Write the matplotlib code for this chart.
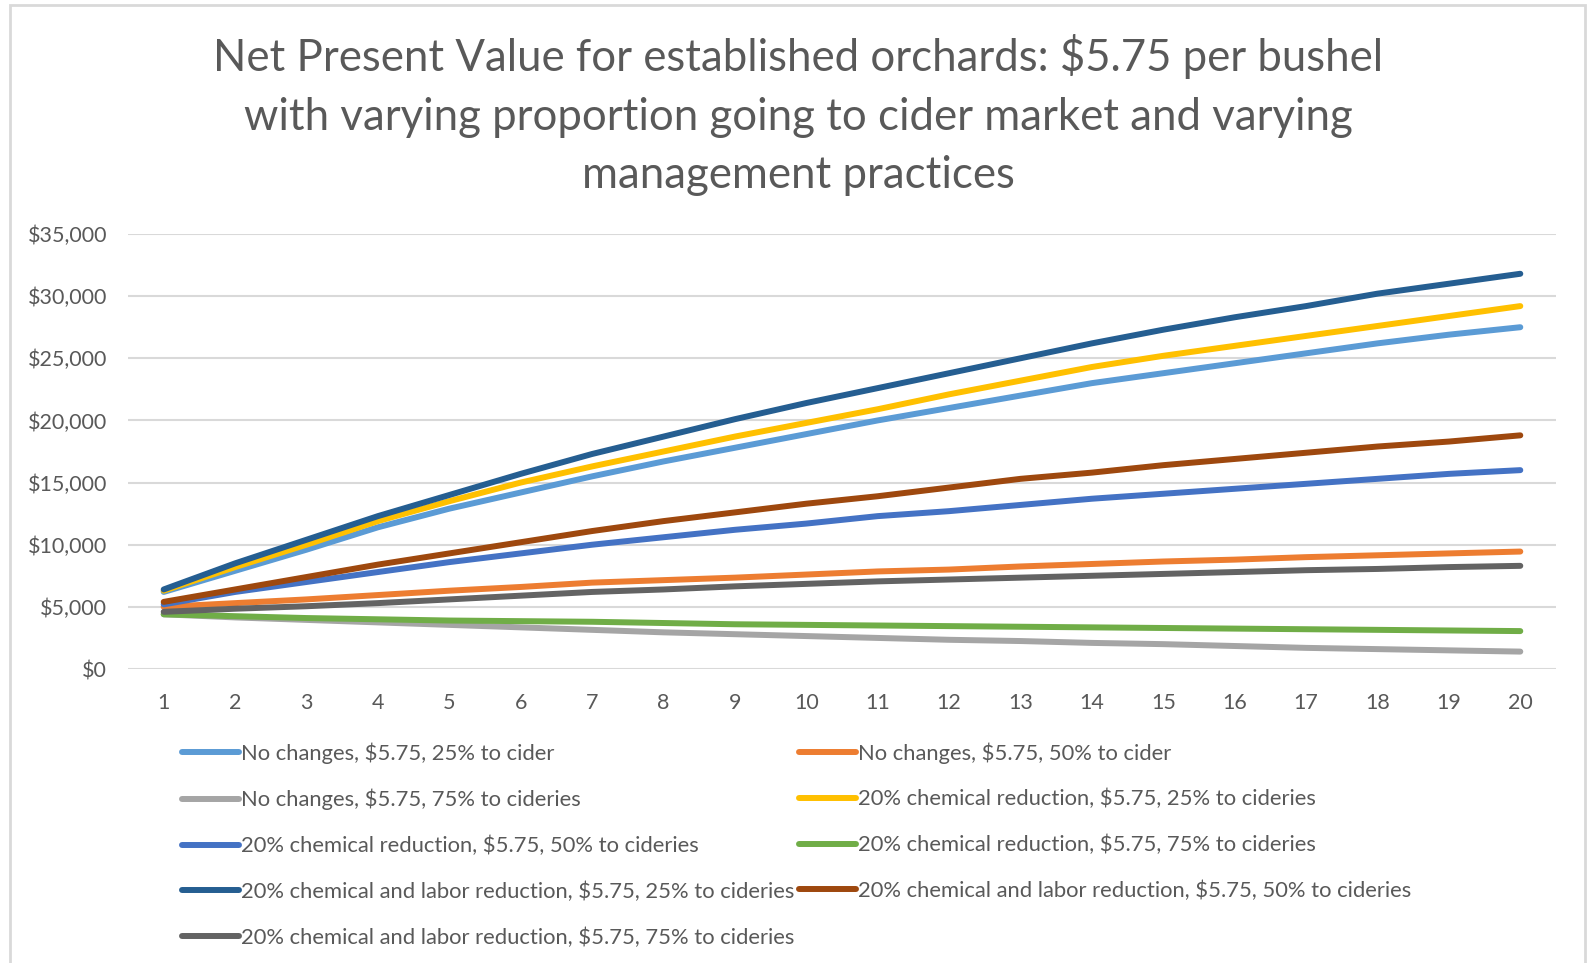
import matplotlib.pyplot as plt
from matplotlib.patches import Rectangle
from matplotlib.ticker import FuncFormatter

plt.rcParams['font.family'] = ['Lato', 'DejaVu Sans']

years = list(range(1, 21))

# NPV in dollars
no_change_25 = [6200, 7900, 9600, 11400, 12900, 14200, 15500, 16700, 17800, 18900,
                20000, 21000, 22000, 23000, 23800, 24600, 25400, 26200, 26900, 27500]
no_change_50 = [5000, 5300, 5600, 5950, 6300, 6600, 6950, 7150, 7350, 7600,
                7850, 8000, 8250, 8450, 8650, 8800, 9000, 9150, 9300, 9450]
no_change_75 = [4400, 4150, 3950, 3750, 3550, 3350, 3150, 2950, 2800, 2650,
                2500, 2350, 2250, 2100, 2000, 1850, 1700, 1600, 1500, 1400]
chem_25 = [6300, 8200, 10000, 11900, 13500, 15000, 16300, 17500, 18700, 19800,
           20900, 22100, 23200, 24300, 25200, 26000, 26800, 27600, 28400, 29200]
chem_50 = [5200, 6200, 7000, 7800, 8600, 9300, 10000, 10600, 11200, 11700,
           12300, 12700, 13200, 13700, 14100, 14500, 14900, 15300, 15700, 16000]
chem_75 = [4400, 4250, 4100, 4000, 3900, 3850, 3800, 3700, 3600, 3550,
           3500, 3450, 3400, 3350, 3300, 3250, 3200, 3150, 3100, 3050]
chem_labor_25 = [6400, 8500, 10400, 12300, 14000, 15700, 17300, 18700, 20100, 21400,
                 22600, 23800, 25000, 26200, 27300, 28300, 29200, 30200, 31000, 31800]
chem_labor_50 = [5400, 6400, 7400, 8400, 9300, 10200, 11100, 11900, 12600, 13300,
                 13900, 14600, 15300, 15800, 16400, 16900, 17400, 17900, 18300, 18800]
chem_labor_75 = [4600, 4850, 5050, 5300, 5600, 5900, 6200, 6400, 6650, 6850,
                 7050, 7200, 7350, 7500, 7650, 7800, 7950, 8050, 8200, 8300]

labels = [
    'No changes, $5.75, 25% to cider',
    'No changes, $5.75, 50% to cider',
    'No changes, $5.75, 75% to cideries',
    '20% chemical reduction, $5.75, 25% to cideries',
    '20% chemical reduction, $5.75, 50% to cideries',
    '20% chemical reduction, $5.75, 75% to cideries',
    '20% chemical and labor reduction, $5.75, 25% to cideries',
    '20% chemical and labor reduction, $5.75, 50% to cideries',
    '20% chemical and labor reduction, $5.75, 75% to cideries',
]
series = [no_change_25, no_change_50, no_change_75, chem_25, chem_50, chem_75,
          chem_labor_25, chem_labor_50, chem_labor_75]
colors = ['#5B9BD5', '#ED7D31', '#A5A5A5', '#FFC000', '#4472C4', '#70AD47',
          '#255E91', '#9E480E', '#636363']

text_color = '#595959'
grid_color = '#D9D9D9'

fig = plt.figure(figsize=(15.89, 9.63), dpi=100)
ax = fig.add_axes([128 / 1589, 1 - 669 / 963, 1428 / 1589, 435 / 963])

handles = []
for vals, lab, col in zip(series, labels, colors):
    h, = ax.plot(years, vals, color=col, lw=4.3, label=lab,
                 solid_capstyle='round', solid_joinstyle='round')
    handles.append(h)

ax.set_xlim(0.5, 20.5)
ax.set_ylim(0, 35000)
ax.set_xticks(years)
ax.set_yticks(range(0, 35001, 5000))
ax.yaxis.set_major_formatter(FuncFormatter(lambda v, p: '${:,.0f}'.format(v)))
ax.grid(axis='y', color=grid_color, lw=1.5)
ax.set_axisbelow(True)
for s in ax.spines.values():
    s.set_visible(False)
ax.tick_params(length=0, labelsize=15.5, colors=text_color)
ax.tick_params(axis='y', pad=15)
ax.tick_params(axis='x', pad=17)

fig.text(798 / 1589, 1 - 115 / 963,
         'Net Present Value for established orchards: $5.75 per bushel\n'
         'with varying proportion going to cider market and varying\n'
         'management practices',
         ha='center', va='center', fontsize=31.5, color=text_color, linespacing=1.53)

# legend filled column-wise, so reorder to match row-wise layout
order = [0, 2, 4, 6, 8, 1, 3, 5, 7]
leg = fig.legend([handles[i] for i in order], [labels[i] for i in order],
                 ncol=2, loc='upper left', bbox_to_anchor=(182 / 1589, 1 - 742 / 963),
                 frameon=False, fontsize=15.8, handlelength=2.6, handletextpad=0.1,
                 columnspacing=0.2, labelspacing=1.16, borderpad=0, borderaxespad=0)
for t in leg.get_texts():
    t.set_color(text_color)

fig.patches.append(Rectangle((10 / 1589, -0.01), 1575 / 1589, 1 - 5 / 963 + 0.01,
                             transform=fig.transFigure, fill=False,
                             edgecolor=grid_color, lw=2))

fig.savefig('out.png', dpi=100)
